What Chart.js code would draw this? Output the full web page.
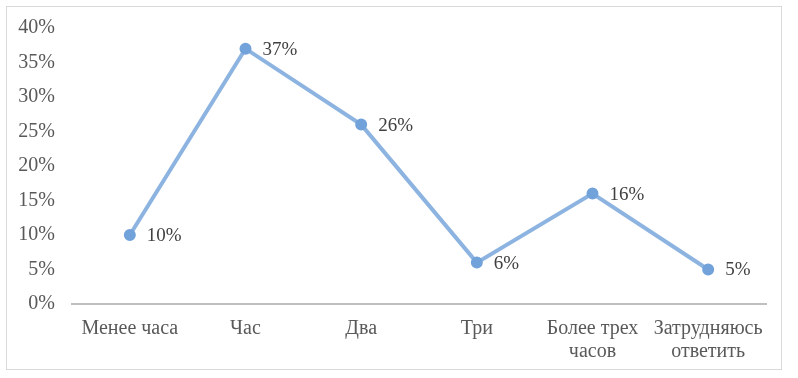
<!DOCTYPE html>
<html>
<head>
<meta charset="utf-8">
<script src="https://cdn.jsdelivr.net/npm/chart.js@4"></script>
<style>
  html, body { margin: 0; padding: 0; background: #fff; }
  #wrap {
    position: absolute; left: 6px; top: 6px;
    width: 776px; height: 364px;
    box-sizing: border-box;
    border: 1px solid #d9d9d9;
  }
  #chart { display: block; }
</style>
</head>
<body>
<div id="wrap"><canvas id="chart" width="774" height="362"></canvas></div>
<script>
const categories = [
  "Менее часа", "Час", "Два", "Три",
  ["Более трех", "часов"], ["Затрудняюсь", "ответить"]
]
const shares = [10, 37, 26, 6, 16, 5]

const FONT = "'Liberation Serif', 'Times New Roman', serif"
const TEXT = "#595959"

// value labels to the right of each point
const valueLabels = {
  id: "valueLabels",
  afterDatasetsDraw(chart) {
    const { ctx } = chart
    const meta = chart.getDatasetMeta(0)
    ctx.save()
    ctx.font = `19px ${FONT}`
    ctx.fillStyle = "#404040"
    ctx.textAlign = "left"
    ctx.textBaseline = "middle"
    meta.data.forEach((pt, i) => {
      ctx.fillText(shares[i] + "%", pt.x + 17, pt.y + 1)
    })
    ctx.restore()
  }
}

new Chart(document.getElementById("chart"), {
  type: "line",
  data: {
    labels: categories,
    datasets: [{
      data: shares,
      borderColor: "#8db4e1",
      borderWidth: 4,
      pointBackgroundColor: "#72a2da",
      pointBorderColor: "#72a2da",
      pointRadius: 4,
      tension: 0,
      fill: false
    }]
  },
  options: {
    responsive: false,
    animation: false,
    layout: { padding: { top: 21, right: 15, left: 0, bottom: 0 } },
    plugins: {
      legend: { display: false },
      tooltip: { enabled: false }
    },
    scales: {
      x: {
        offset: true,
        grid: { display: false, drawTicks: false },
        border: { display: true, color: "#bfbfbf", width: 2 },
        ticks: {
          color: TEXT,
          font: { family: FONT, size: 20, lineHeight: 1.15 },
          padding: 13,
          maxRotation: 0,
          autoSkip: false
        },
        afterFit: axis => { axis.height = 65 }
      },
      y: {
        min: 0,
        max: 40,
        grid: { display: false, drawTicks: false },
        border: { display: false },
        ticks: {
          stepSize: 5,
          color: TEXT,
          font: { family: FONT, size: 20 },
          padding: 17,
          callback: v => v + "%"
        },
        afterFit: axis => {
          axis.width = 65
          axis.paddingTop = 0
          axis.paddingBottom = 0
        }
      }
    }
  },
  plugins: [valueLabels]
})
</script>
</body>
</html>
